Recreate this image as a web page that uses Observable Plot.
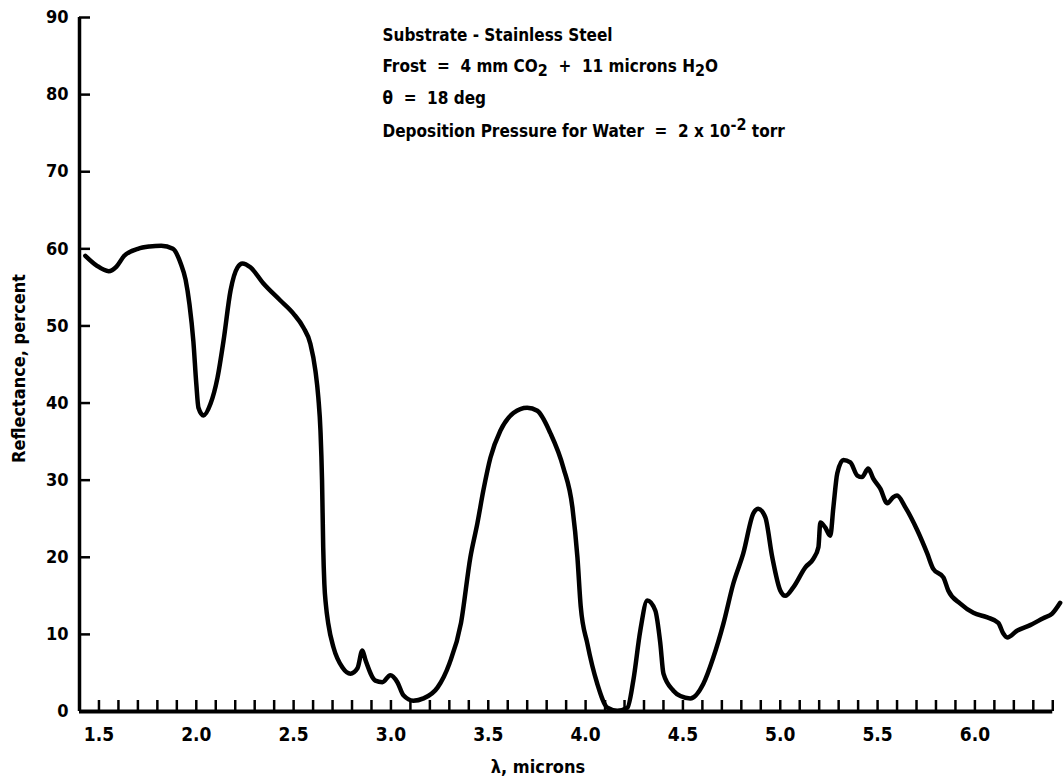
<!DOCTYPE html>
<html>
<head>
<meta charset="utf-8">
<script src="https://cdn.jsdelivr.net/npm/d3@7"></script>
<script src="https://cdn.jsdelivr.net/npm/@observablehq/plot@0.6"></script>
<style>
  html, body { margin: 0; padding: 0; background: #fff; }
  #chart svg { display: block; }
</style>
</head>
<body>
<div id="chart"></div>
<script>
// wavelength, microns
const lambda = [1.43,1.49,1.55,1.59,1.63,1.70,1.76,1.82,1.88,1.92,1.945,1.965,1.985,2.0,2.011,2.037,2.073,2.109,2.14,2.176,2.212,2.237,2.278,2.345,2.432,2.499,2.55,2.586,2.612,2.627,2.638,2.646,2.652,2.658,2.666,2.678,2.705,2.751,2.792,2.828,2.853,2.87,2.92,2.956,2.997,3.033,3.064,3.115,3.167,3.239,3.30,3.36,3.408,3.444,3.475,3.511,3.562,3.629,3.70,3.752,3.819,3.886,3.932,3.958,3.975,4.009,4.06,4.112,4.163,4.215,4.245,4.281,4.317,4.358,4.384,4.40,4.451,4.487,4.538,4.605,4.656,4.708,4.759,4.81,4.862,4.887,4.923,4.959,5.0,5.026,5.067,5.129,5.17,5.196,5.206,5.23,5.257,5.273,5.293,5.324,5.36,5.396,5.42,5.452,5.478,5.514,5.55,5.581,5.60,5.642,5.704,5.755,5.786,5.838,5.863,5.925,5.992,6.064,6.12,6.146,6.166,6.218,6.284,6.351,6.397,6.438];
// reflectance, percent
const reflectance = [59.1,57.8,57.1,57.7,59.1,60.0,60.3,60.4,60.0,58.1,56.0,52.8,48.0,42.5,39.4,38.4,39.9,43.3,48.1,54.6,57.6,58.1,57.6,55.5,53.3,51.6,49.8,47.7,44.2,40.7,36.4,30,21.3,16.5,13.8,11.4,8.3,5.7,4.9,5.6,7.9,6.6,4.0,3.8,4.7,3.8,2.1,1.4,1.7,3.1,6.2,11.5,20,24.4,28.7,32.9,36.4,38.7,39.4,39.0,36.1,31.6,26.5,20,13.6,8.8,3.6,0.5,0.1,0.5,4.0,10.5,14.4,13.1,8.8,4.9,2.7,2.0,1.7,3.6,7.0,11.4,16.6,20.5,25.7,26.3,25.2,20,15.7,15.0,16.1,18.7,19.8,21.3,24.5,23.9,22.8,26.5,30.9,32.6,32.3,30.6,30.4,31.5,30.2,28.9,27.0,27.8,28.0,26.5,23.5,20.5,18.5,17.4,15.7,14.0,12.8,12.2,11.5,10.1,9.6,10.5,11.2,12.1,12.7,14.1];

const xTickLabels = [1.5, 2.0, 2.5, 3.0, 3.5, 4.0, 4.5, 5.0, 5.5, 6.0];
const xMinorTicks = d3.range(15, 65).map(d => d / 10);
const yTicks = [0, 10, 20, 30, 40, 50, 60, 70, 80, 90];
const xLabel = "λ, microns";
const yLabel = "Reflectance, percent";
// annotation lines: segments [text, shift] where shift is "sub" or "sup"
const noteLines = [
  [["Substrate - Stainless Steel"]],
  [["Frost  =  4 mm CO"], ["2", "sub"], ["  +  11 microns H"], ["2", "sub"], ["O"]],
  [["θ  =  18 deg"]],
  [["Deposition Pressure for Water  =  2 x 10"], ["-2", "sup"], [" torr"]]
];
const noteOffsets = [18, 49, 81, 114];

const data = lambda.map((x, i) => ({x, y: reflectance[i]}));
const FONT = '"Liberation Sans Narrow", "DejaVu Sans Condensed", "Roboto Condensed", sans-serif';

const W = 1064, H = 782, mL = 79, mR = 2, mT = 17, mB = 71;
const innerH = H - mT - mB, innerW = W - mL - mR;
const joined = noteLines.map(l => l.map(s => s[0]).join(""));

const plot = Plot.plot({
  width: W, height: H,
  marginLeft: mL, marginRight: mR, marginTop: mT, marginBottom: mB,
  style: {fontFamily: FONT, fontWeight: "bold", color: "#000", background: "#fff"},
  x: {domain: [1.4, 6.45]},
  y: {domain: [0, 90]},
  marks: [
    // axis lines
    Plot.ruleX([1.4], {y1: 0, y2: 90, stroke: "#000", strokeWidth: 3.5}),
    Plot.ruleY([0], {x1: 1.4, x2: 6.4, stroke: "#000", strokeWidth: 4}),
    // inward ticks
    Plot.tickX(xMinorTicks, {x: d => d, stroke: "#000", strokeWidth: 2.5, insetTop: innerH - 11}),
    Plot.tickY(yTicks.filter(d => d > 0), {y: d => d, stroke: "#000", strokeWidth: 2.5, insetRight: innerW - 11}),
    // tick labels
    Plot.axisX({ticks: xTickLabels, tickFormat: d3.format(".1f"), tickSize: 0, tickPadding: 16, fontSize: 19, label: null}),
    Plot.axisY({ticks: yTicks, tickSize: 0, tickPadding: 11, fontSize: 18, label: null}),
    // axis titles
    Plot.text([xLabel], {frameAnchor: "bottom", dx: -33, dy: 61, fontSize: 18, text: d => d}),
    Plot.text([yLabel], {frameAnchor: "left", textAnchor: "middle", dx: -60, dy: 4, rotate: -90, fontSize: 18, text: d => d}),
    // curve
    Plot.line(data, {x: "x", y: "y", curve: "monotone-x", stroke: "#000", strokeWidth: 4.5, strokeLinejoin: "round", strokeLinecap: "round"}),
    // annotation lines
    ...joined.map((s, i) => Plot.text([s], {
      frameAnchor: "top-left", dx: 303, dy: noteOffsets[i], text: d => d,
      textAnchor: "start", lineAnchor: "middle", fontSize: 17
    }))
  ]
});

document.getElementById("chart").append(plot);

// rebuild annotation text with sub/superscripts
d3.select(plot).selectAll("text").each(function() {
  const i = joined.indexOf(this.textContent);
  if (i < 0 || noteLines[i].length < 2) return;
  const t = d3.select(this);
  t.text(null).attr("xml:space", "preserve").style("white-space", "pre");
  for (const [s, shift] of noteLines[i]) {
    const ts = t.append("tspan").text(s);
    if (shift === "sub") ts.attr("baseline-shift", "-25%").attr("font-size", 16);
    if (shift === "sup") ts.attr("baseline-shift", "45%").attr("font-size", 16);
  }
});
</script>
</body>
</html>
